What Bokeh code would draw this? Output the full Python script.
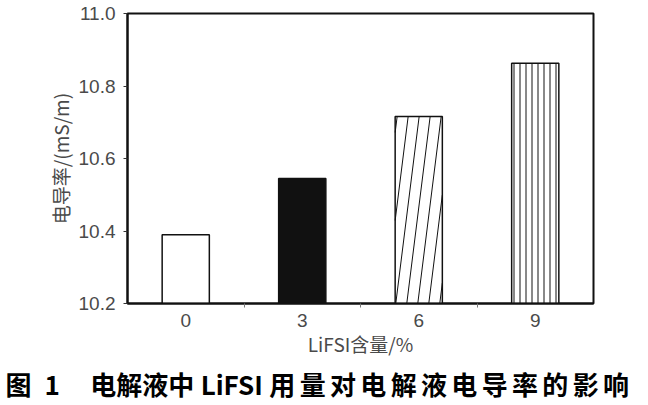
import numpy as np
from bokeh.plotting import figure
from bokeh.models import FixedTicker, Title, ColumnDataSource, NumeralTickFormatter
from bokeh.embed import file_html
from bokeh.resources import INLINE

# ---- data ----
categories = ["0", "3", "6", "9"]
conductivity = [10.39, 10.545, 10.716, 10.863]
y_ticks = [10.2, 10.4, 10.6, 10.8, 11.0]
x_label = "LiFSI含量/%"
y_label = "电导率/(mS/m)"
caption = "图\u20021\u2003\u2006电解液中\u2005LiFSI\u2005用\u2006量\u2006对\u2006电\u2006解\u2006液\u2006电\u2006导\u2006率\u2006的\u2006影\u2006响"

# ---- layout ----
W, H = 648, 405
B_LEFT, B_RIGHT, B_TOP, B_BOTTOM = 127, 55, 13, 102
y0, y1 = 10.2, 11.0
x0, x1 = -0.5, len(categories) - 0.5
bar_w = 0.405

p = figure(width=W, height=H, x_range=(x0, x1), y_range=(y0, y1),
           output_backend="svg", toolbar_location=None,
           min_border_left=B_LEFT, min_border_right=B_RIGHT,
           min_border_top=B_TOP, min_border_bottom=B_BOTTOM)
p.background_fill_color = "white"
p.border_fill_color = "white"
p.grid.visible = False
p.outline_line_color = "#111111"
p.outline_line_width = 2

xs = list(range(len(categories)))
fills = ["white", "#111111", "white", "white"]
hatches = [" ", " ", " ", "vertical_line"]
src = ColumnDataSource(dict(x=xs, top=conductivity, fill=fills, hatch=hatches))
p.vbar(x="x", top="top", bottom=y0, width=bar_w, source=src,
       fill_color="fill", line_color="#111111", line_width=1.5,
       hatch_pattern="hatch", hatch_scale=6, hatch_weight=1, hatch_color="#111111")

# steep diagonal hatch for the "6" bar
fw = W - B_LEFT - B_RIGHT
fh = H - B_TOP - B_BOTTOM
pxx = fw / (x1 - x0)
pxy = fh / (y1 - y0)
i = 2
wpx = bar_w * pxx
hpx = (conductivity[i] - y0) * pxy
slope = 8.0
sp = 11.0
lx, ly = [], []
o = -hpx / slope + 2
while o < wpx:
    xa, ya = o, 0.0
    xb, yb = o + hpx / slope, hpx
    if xa < 0:
        ya = -xa * slope
        xa = 0.0
    if xb > wpx:
        yb = (wpx - o) * slope
        xb = wpx
    if yb > ya:
        left_edge = xs[i] - bar_w / 2
        lx.append([left_edge + xa / pxx, left_edge + xb / pxx])
        ly.append([y0 + ya / pxy, y0 + yb / pxy])
    o += sp
p.multi_line(lx, ly, line_color="#111111", line_width=1)

# ---- axes ----
tick_font = "Liberation Sans"
lab_font = "Noto Sans CJK SC"
ya = p.yaxis[0]
ya.ticker = FixedTicker(ticks=y_ticks)
ya.formatter = NumeralTickFormatter(format="0.0")
ya.axis_line_color = "#111111"
ya.axis_line_width = 2
ya.major_tick_out = 4
ya.major_tick_in = 0
ya.major_tick_line_color = "#333333"
ya.minor_tick_line_color = None
ya.major_label_text_font = tick_font
ya.major_label_text_font_size = "19px"
ya.major_label_text_color = "#4a4a4a"
ya.major_label_standoff = 8
ya.axis_label = y_label
ya.axis_label_text_font = lab_font
ya.axis_label_text_font_size = "19px"
ya.axis_label_text_font_style = "normal"
ya.axis_label_text_color = "#4a4a4a"
ya.axis_label_standoff = 2

xa_ = p.xaxis[0]
xa_.ticker = FixedTicker(ticks=xs, minor_ticks=[k + 0.5 for k in xs[:-1]])
xa_.major_label_overrides = {k: c for k, c in zip(xs, categories)}
xa_.axis_line_color = "#111111"
xa_.axis_line_width = 2
xa_.major_tick_out = 0
xa_.major_tick_in = 0
xa_.minor_tick_out = 4
xa_.minor_tick_in = 0
xa_.minor_tick_line_color = "#777777"
xa_.major_label_text_font = tick_font
xa_.major_label_text_font_size = "19px"
xa_.major_label_text_color = "#4a4a4a"
xa_.major_label_standoff = 6
xa_.axis_label = x_label
xa_.axis_label_text_font = lab_font
xa_.axis_label_text_font_size = "19px"
xa_.axis_label_text_font_style = "normal"
xa_.axis_label_text_color = "#4a4a4a"
xa_.axis_label_standoff = 0

t = Title(text=caption, align="left", offset=-B_LEFT + 5,
          text_font=lab_font, text_font_size="26px", text_font_style="bold",
          text_color="#000000", standoff=6)
p.add_layout(t, "below")

open("out.html", "w").write(file_html(p, INLINE))
